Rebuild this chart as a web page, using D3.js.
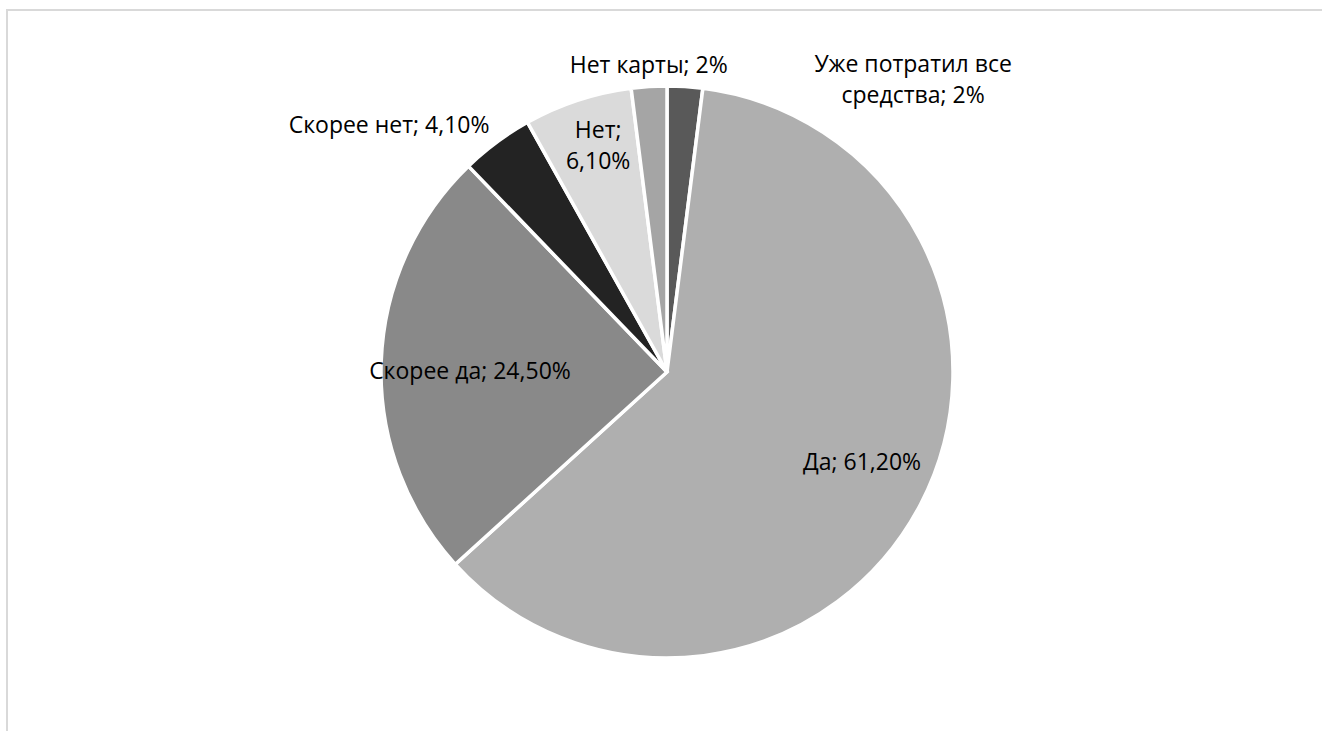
<!DOCTYPE html>
<html>
<head>
<meta charset="utf-8">
<script src="https://cdn.jsdelivr.net/npm/d3@7"></script>
<style>
  html, body { margin: 0; padding: 0; background: #fff; overflow: hidden; }
  svg { display: block; }
</style>
</head>
<body>
<svg id="chart" width="1322" height="731"></svg>
<script>
// ---- data ----
const categories = ["Уже потратил все средства", "Да", "Скорее да", "Скорее нет", "Нет", "Нет карты"];
const values = [2, 61.2, 24.5, 4.1, 6.1, 2];
const valueLabels = ["2%", "61,20%", "24,50%", "4,10%", "6,10%", "2%"];
const labelLines = [
  ["Уже потратил все", "средства; 2%"],
  ["Да; 61,20%"],
  ["Скорее да; 24,50%"],
  ["Скорее нет; 4,10%"],
  ["Нет;", "6,10%"],
  ["Нет карты; 2%"]
];

// ---- styles / layout ----
const colors = ["#595959", "#afafaf", "#898989", "#232323", "#dadada", "#a5a5a5"];
// label placement: radius as fraction of pie radius, angular shift (deg) from slice middle
const labelRadius = [1.336, 0.751, 0.689, 1.30, 0.828, 1.075];
const labelShift = [36.5, -2.7, -1.6, -11.8, 1.3, 0.2];

const W = 1322, H = 731;
const cx = 667, cy = 372, R = 286;
const svg = d3.select("#chart");

// frame
svg.append("rect")
  .attr("x", 7).attr("y", 10)
  .attr("width", W + 20).attr("height", H + 20)
  .attr("fill", "none").attr("stroke", "#d9d9d9").attr("stroke-width", 2);

const pie = d3.pie().sort(null).value(d => d.v);
const data = categories.map((c, i) => ({ c, v: values[i], i }));
const arcs = pie(data);
const arc = d3.arc().innerRadius(0).outerRadius(R);

const g = svg.append("g").attr("transform", `translate(${cx},${cy})`);

g.selectAll("path.slice").data(arcs).enter().append("path")
  .attr("class", "slice")
  .attr("d", arc)
  .attr("fill", d => colors[d.data.i])
  .attr("stroke", "#fff")
  .attr("stroke-width", 3.5)
  .attr("stroke-linejoin", "miter");

const fontSize = 23, lineH = 31;
g.selectAll("text.lbl").data(arcs).enter().append("text")
  .attr("class", "lbl")
  .attr("font-family", "'Open Sans', 'Noto Sans', sans-serif")
  .attr("font-size", fontSize)
  .attr("fill", "#000")
  .attr("text-anchor", "middle")
  .each(function(d) {
    const i = d.data.i;
    const mid = (d.startAngle + d.endAngle) / 2 + labelShift[i] * Math.PI / 180;
    const rr = R * labelRadius[i];
    const p = d3.arc().innerRadius(rr).outerRadius(rr).centroid({ startAngle: mid, endAngle: mid });
    const lines = labelLines[i];
    const t = d3.select(this);
    const y0 = p[1] - (lines.length - 1) * lineH / 2;
    lines.forEach((ln, k) => {
      t.append("tspan")
        .attr("x", p[0])
        .attr("y", y0 + k * lineH)
        .attr("dy", "0.35em")
        .text(ln);
    });
  });
</script>
</body>
</html>
